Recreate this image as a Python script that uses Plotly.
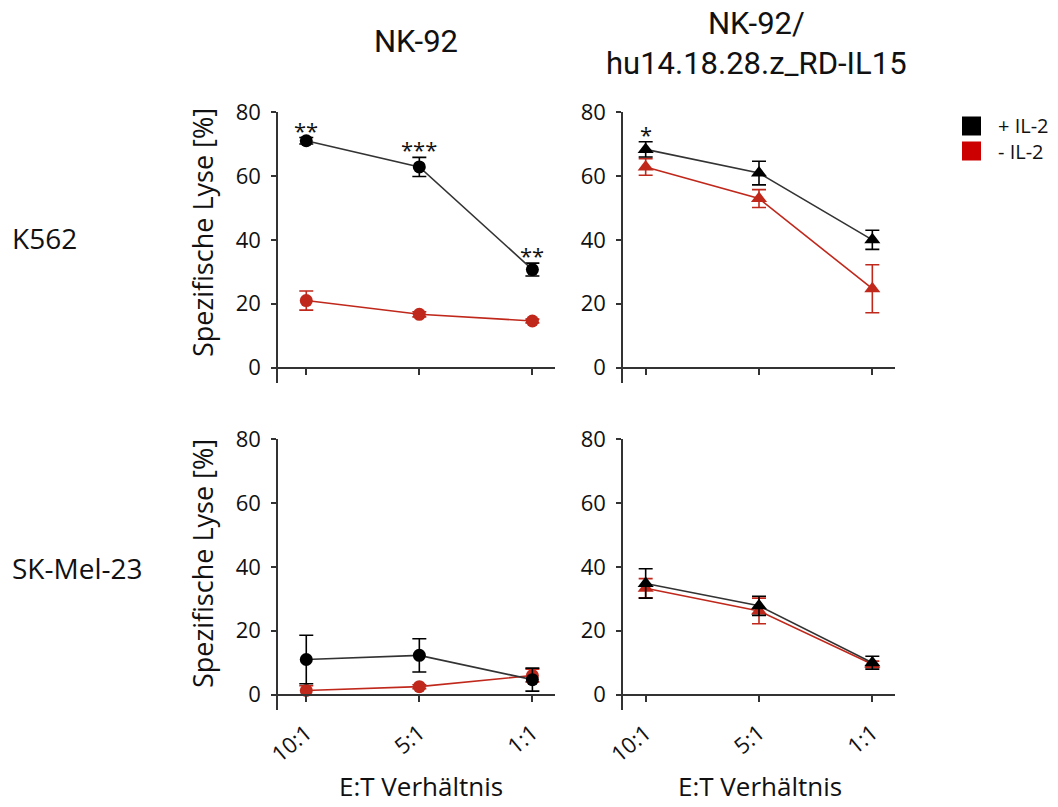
import plotly.graph_objects as go

categories = ["10:1", "5:1", "1:1"]
y_ticks = [0, 20, 40, 60, 80]

# NK-92 / K562
nk_k562_plus = [71.0, 62.8, 30.7]
nk_k562_plus_err = [1.0, 3.0, 2.0]
nk_k562_minus = [21.0, 16.7, 14.6]
nk_k562_minus_err = [3.0, 0.8, 0.6]
nk_k562_stars = ["**", "***", "**"]

# NK-92/hu14.18.28.z_RD-IL15 / K562
car_k562_plus = [68.3, 60.9, 40.0]
car_k562_plus_err = [2.4, 3.7, 3.0]
car_k562_minus = [62.8, 52.9, 24.7]
car_k562_minus_err = [2.6, 2.8, 7.5]
car_k562_stars = ["*", "", ""]

# NK-92 / SK-Mel-23
nk_sk_plus = [11.0, 12.3, 4.7]
nk_sk_plus_err = [7.6, 5.2, 3.6]
nk_sk_minus = [1.3, 2.5, 6.0]
nk_sk_minus_err = [1.5, 0.6, 2.0]

# NK-92/hu14.18.28.z_RD-IL15 / SK-Mel-23
car_sk_plus = [34.8, 27.8, 10.0]
car_sk_plus_err = [4.6, 3.0, 2.0]
car_sk_minus = [33.3, 26.2, 9.5]
car_sk_minus_err = [3.0, 4.0, 1.0]

col_title_1 = "NK-92"
col_title_2 = ["NK-92/", "hu14.18.28.z_RD-IL15"]
row_titles = ["K562", "SK-Mel-23"]
series_names = ["+ IL-2", "- IL-2"]
y_title = "Spezifische Lyse [%]"
x_title = "E:T Verhältnis"

W, H = 1058, 807


def px(xp):
    return xp / W


def py(yp):
    return 1 - yp / H


BLACK = "#000000"
LINE_BLACK = "#333333"
RED = "#c0281c"
AX = "#333333"
TXT = "#111111"
FONT = "Open Sans"
TITLE_FONT = "Roboto"

fig = go.Figure()

x_dom = [[px(278), px(555)], [px(623), px(895)]]
y_dom_px = [[112, 383], [439, 710]]
y_dom = [[py(b), py(t)] for t, b in y_dom_px]
x_rng = [[-0.25, 2.2], [-0.2, 2.2]]
y_rng = [-4.8, 80]
y_title_centers = [233, 564]
x_title_centers = [421, 760]

panels = [
    (0, 0, nk_k562_plus, nk_k562_plus_err, nk_k562_minus, nk_k562_minus_err, nk_k562_stars, "circle"),
    (0, 1, car_k562_plus, car_k562_plus_err, car_k562_minus, car_k562_minus_err, car_k562_stars, "triangle-up"),
    (1, 0, nk_sk_plus, nk_sk_plus_err, nk_sk_minus, nk_sk_minus_err, None, "circle"),
    (1, 1, car_sk_plus, car_sk_plus_err, car_sk_minus, car_sk_minus_err, None, "triangle-up"),
]


def ann(x, y, text, size, xanchor="center", yanchor="middle", family=FONT, **kw):
    d = dict(x=x, y=y, xref="paper", yref="paper", text=text, showarrow=False,
             xanchor=xanchor, yanchor=yanchor, font=dict(family=family, size=size, color=TXT))
    d.update(kw)
    return d


layout = {}
annotations = []
for i, (r, c, yp, ep, ym, em, stars, sym) in enumerate(panels):
    n = i + 1
    xa = "x" if n == 1 else f"x{n}"
    ya = "y" if n == 1 else f"y{n}"
    d0, d1 = y_dom[r]
    pos = d0 + (0 - y_rng[0]) / (y_rng[1] - y_rng[0]) * (d1 - d0)
    layout["xaxis" if n == 1 else f"xaxis{n}"] = dict(
        domain=x_dom[c], anchor="free", position=pos, type="category",
        categoryorder="array", categoryarray=categories,
        range=x_rng[c], showline=True, linecolor=AX, linewidth=1.6,
        ticks="outside", ticklen=7, tickwidth=1.6, tickcolor=AX,
        showticklabels=(r == 1), tickangle=-40, ticklabelstandoff=9,
        tickfont=dict(family=FONT, size=22, color=TXT),
        showgrid=False, zeroline=False, fixedrange=True, automargin=False,
    )
    layout["yaxis" if n == 1 else f"yaxis{n}"] = dict(
        domain=y_dom[r], anchor=xa, range=y_rng, tickvals=y_ticks,
        showline=True, linecolor=AX, linewidth=1.6,
        ticks="outside", ticklen=5, tickwidth=1.6, tickcolor=AX,
        ticklabelstandoff=6,
        tickfont=dict(family=FONT, size=22, color=TXT),
        showgrid=False, zeroline=False, fixedrange=True, automargin=False,
    )
    size = 13 if sym == "circle" else 14
    fig.add_trace(go.Scatter(
        x=categories, y=ym, xaxis=xa, yaxis=ya, mode="lines+markers",
        line=dict(color=RED, width=1.6),
        marker=dict(symbol=sym, size=size, color=RED),
        error_y=dict(type="data", array=em, visible=True, color=RED, thickness=1.6, width=7),
        showlegend=False, cliponaxis=False,
    ))
    fig.add_trace(go.Scatter(
        x=categories, y=yp, xaxis=xa, yaxis=ya, mode="lines+markers",
        line=dict(color=LINE_BLACK, width=1.6),
        marker=dict(symbol=sym, size=size, color=BLACK),
        error_y=dict(type="data", array=ep, visible=True, color=BLACK, thickness=1.6, width=7),
        showlegend=False, cliponaxis=False,
    ))
    if stars:
        for cat, v, e, s in zip(categories, yp, ep, stars):
            if s:
                annotations.append(dict(
                    x=cat, y=v + e, xref=xa, yref=ya, text=s, showarrow=False,
                    xanchor="center", yanchor="middle", yshift=8,
                    font=dict(family=FONT, size=22, color=TXT),
                ))
    if c == 0:
        annotations.append(ann(px(202), py(y_title_centers[r]), y_title, 27, textangle=-90))
    if r == 1:
        annotations.append(ann(px(x_title_centers[c]), py(806), x_title, 26, yanchor="bottom"))

# column titles
annotations.append(ann(px(416), py(41), col_title_1, 31, family=TITLE_FONT))
annotations.append(ann(px(756), py(23), col_title_2[0], 31, family=TITLE_FONT))
annotations.append(ann(px(756), py(63), col_title_2[1], 31, family=TITLE_FONT))
# row titles
annotations.append(ann(px(10), py(238), row_titles[0], 28, xanchor="left"))
annotations.append(ann(px(10), py(568), row_titles[1], 28, xanchor="left"))

# legend
for col, ypx in [(BLACK, 126), ("#cc0000", 151)]:
    fig.add_shape(type="rect", xref="paper", yref="paper",
                  x0=px(962), x1=px(981), y0=py(ypx + 9.5), y1=py(ypx - 9.5),
                  fillcolor=col, line=dict(width=0))
annotations.append(ann(px(996), py(138.5), "<br>".join(series_names), 20, xanchor="left", align="left"))

fig.update_layout(
    width=W, height=H, autosize=False,
    margin=dict(l=0, r=0, t=0, b=0, pad=0),
    paper_bgcolor="white", plot_bgcolor="white",
    annotations=annotations, showlegend=False,
    **layout,
)

fig.write_html("out.html", config={"displayModeBar": False},
               post_script="document.body.style.margin='0';document.body.style.padding='0';")
